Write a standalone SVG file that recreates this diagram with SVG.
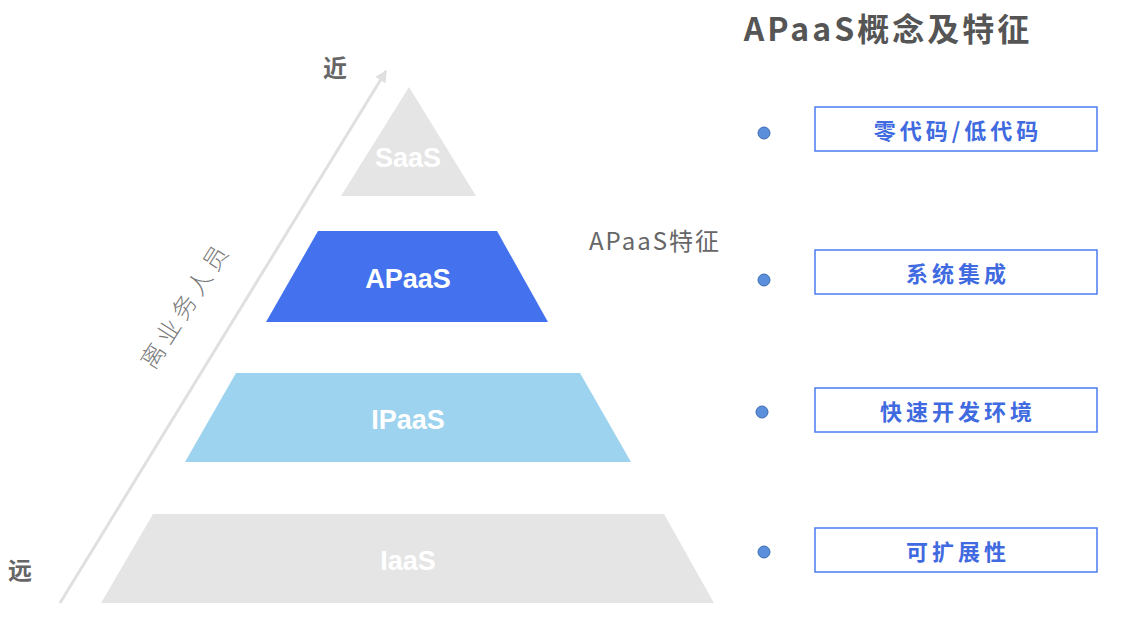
<svg xmlns="http://www.w3.org/2000/svg" width="1137" height="639" viewBox="0 0 1137 639">
<style>
.tier{font-family:"Liberation Sans","Noto Sans",sans-serif;font-weight:bold;font-size:27px;fill:#ffffff;text-anchor:middle;dominant-baseline:central}
.gray{fill:#e5e5e5}
.lab{font-family:"Noto Sans CJK SC","Noto Sans",sans-serif;fill:#666666;dominant-baseline:central}
.box{fill:#ffffff;stroke:#4a7cf0;stroke-width:1.5}
.boxt{font-family:"Noto Sans CJK SC",sans-serif;font-weight:bold;font-size:22px;fill:#3f6ae0;text-anchor:middle;dominant-baseline:central;letter-spacing:4px}
.dot{fill:#5b8fdc;stroke:#3f6bb0;stroke-width:1}
</style>
<defs>
<marker id="ah" viewBox="0 0 10 10" refX="9" refY="5" markerWidth="4" markerHeight="4" orient="auto">
<path d="M0,0 L10,5 L0,10 z" fill="#e0e0e0"/>
</marker>
</defs>
<rect width="1137" height="639" fill="#ffffff"/>
<g id="connectors">
<line x1="60" y1="603" x2="386" y2="71" stroke="#e0e0e0" stroke-width="3" marker-end="url(#ah)"/>
</g>
<g id="saas">
<polygon class="gray" points="409,87 476,196 341,196"/>
<text class="tier" x="408" y="158">SaaS</text>
</g>
<g id="apaas">
<polygon fill="#4472ee" points="318,231 497,231 548,322 266,322"/>
<text class="tier" x="408" y="279">APaaS</text>
</g>
<g id="ipaas">
<polygon fill="#9dd3ee" points="236,373 580,373 631,462 185,462"/>
<text class="tier" x="408" y="420">IPaaS</text>
</g>
<g id="iaas">
<polygon class="gray" points="153,514 664,514 714,603 101,603"/>
<text class="tier" x="408" y="561">IaaS</text>
</g>
<g id="axis-labels">
<text class="lab" x="335" y="66" font-size="24" font-weight="bold" text-anchor="middle">近</text>
<text class="lab" x="20" y="568" font-size="24" font-weight="bold" text-anchor="middle">远</text>
<text x="184" y="304" font-family="Noto Sans CJK SC, sans-serif" font-size="24" font-weight="300" fill="#7a7a7a" text-anchor="middle" dominant-baseline="central" letter-spacing="5" transform="rotate(-57.5 184 304)">离业务人员</text>
</g>
<g id="title">
<text x="888" y="27" font-family="Noto Sans CJK SC, sans-serif" font-weight="bold" font-size="32" fill="#555555" text-anchor="middle" dominant-baseline="central" letter-spacing="3">APaaS概念及特征</text>
</g>
<g id="feature-label">
<text class="lab" x="655" y="239" font-size="24" text-anchor="middle" letter-spacing="2">APaaS特征</text>
</g>
<g id="f1">
<circle class="dot" cx="764" cy="133" r="6"/>
<rect class="box" x="815" y="107" width="282" height="44"/>
<text class="boxt" x="958" y="129">零代码/低代码</text>
</g>
<g id="f2">
<circle class="dot" cx="764" cy="280" r="6"/>
<rect class="box" x="815" y="250" width="282" height="44"/>
<text class="boxt" x="958" y="272">系统集成</text>
</g>
<g id="f3">
<circle class="dot" cx="762" cy="412" r="6"/>
<rect class="box" x="815" y="388" width="282" height="44"/>
<text class="boxt" x="958" y="410">快速开发环境</text>
</g>
<g id="f4">
<circle class="dot" cx="764" cy="552" r="6"/>
<rect class="box" x="815" y="528" width="282" height="44"/>
<text class="boxt" x="958" y="550">可扩展性</text>
</g>
</svg>
